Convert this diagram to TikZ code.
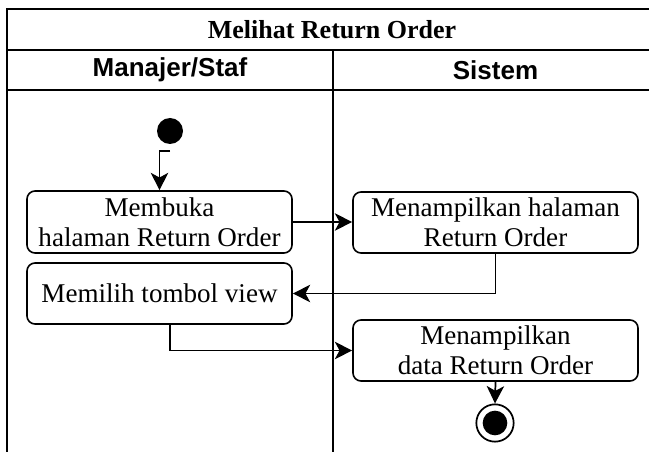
\documentclass[tikz,border=0pt]{standalone}
\usepackage{fontspec}
\setmainfont{Liberation Serif}
\newfontfamily\lanefont{Liberation Sans}
\usetikzlibrary{arrows.meta,calc}

\tikzset{
  frameline/.style={line width=1.6pt},
  actbox/.style={draw, line width=1.2pt, rounded corners=6pt, inner sep=0pt,
    align=center, font=\fontsize{20.3}{22.5}\selectfont},
  titletext/.style={font=\bfseries\fontsize{19.5}{22}\selectfont},
  lanetext/.style={font=\lanefont\bfseries\fontsize{19.5}{22}\selectfont},
  flow/.style={line width=1.3pt, -{Stealth[length=13pt,width=13pt,inset=3.5pt]}},
  startdot/.style={circle, fill=black, minimum size=19.5pt, inner sep=0pt},
}

\begin{document}
\begin{tikzpicture}[x=0.75pt, y=-0.75pt]
  \useasboundingbox (0,0) rectangle (649,452);

  % swimlane frame
  \draw[frameline] (649,9) -- (7,9) -- (7,452);
  \draw[frameline] (7,50) -- (649,50);
  \draw[frameline] (7,90) -- (649,90);
  \draw[frameline] (333,50) -- (333,452);

  % titles
  \node[titletext] (title) at (332,30) {Melihat Return Order};
  \node[lanetext] (laneA) at (170,70) {Manajer/Staf};
  \node[lanetext] (laneB) at (495.5,70) {Sistem};

  % start and end states
  \node[startdot] (start) at (170,131) {};
  \node[circle, draw, line width=1.3pt, minimum size=28pt, inner sep=0pt] (final) at (495,423) {};
  \node[circle, fill=black, minimum size=18.5pt, inner sep=0pt] at (final) {};

  % activities
  \node[actbox, minimum width=198.75pt, minimum height=46.5pt] (open) at (159.5,222)
    {Membuka\\halaman Return Order};
  \node[actbox, minimum width=198.75pt, minimum height=45.75pt] (view) at (159.5,293.5)
    {Memilih tombol view};
  \node[actbox, minimum width=213.75pt, minimum height=45.75pt] (page) at (495.5,222.5)
    {Menampilkan halaman\\Return Order};
  \node[actbox, minimum width=213.75pt, minimum height=45.75pt] (data) at (495.5,350.5)
    {Menampilkan\\data Return Order};

  % control flow
  \coordinate (s0) at ($(start.south)+(0,7)$);
  \draw[flow] (s0) -| (open.north);
  \draw[flow] (open.east) -- (open.east -| page.west);
  \draw[flow] (page.south) |- (view.east);
  \coordinate (v0) at ($(view.south)+(10.5,0)$);
  \draw[flow] (v0) |- (data.west);
  \draw[flow] (data.south) -- (final.north);
\end{tikzpicture}
\end{document}
